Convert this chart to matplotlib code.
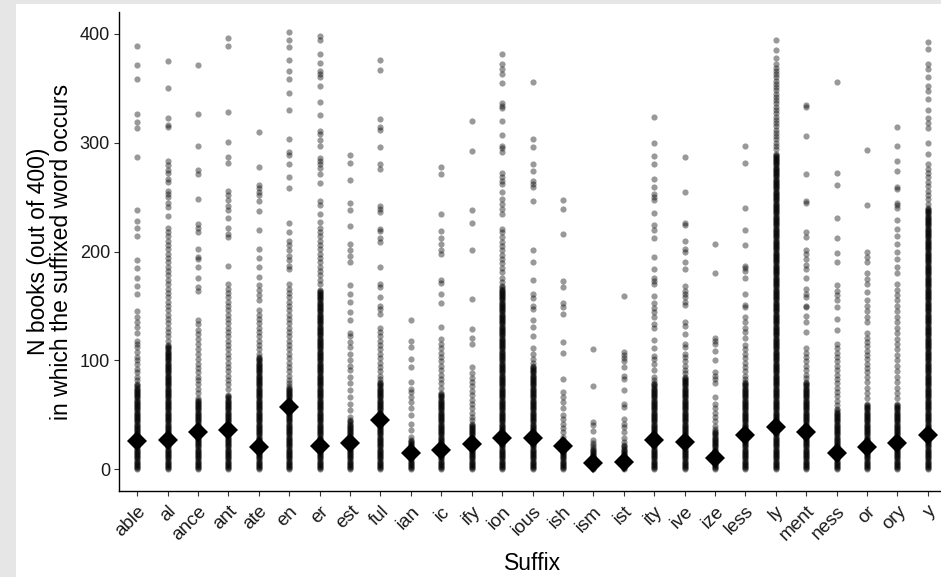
import numpy as np
import matplotlib
matplotlib.use("Agg")
import matplotlib.pyplot as plt
from matplotlib.patches import Rectangle

plt.rcParams['font.family'] = ['Liberation Sans', 'DejaVu Sans']

suffixes = ['able', 'al', 'ance', 'ant', 'ate', 'en', 'er', 'est', 'ful', 'ian',
            'ic', 'ify', 'ion', 'ious', 'ish', 'ism', 'ist', 'ity', 'ive', 'ize',
            'less', 'ly', 'ment', 'ness', 'or', 'ory', 'y']

# mean N books per suffix (diamonds)
means = [26, 27, 34, 36, 20, 57, 21, 24, 45, 15, 18, 23, 29, 29, 21, 6, 7, 27,
         25, 10, 31, 39, 34, 15, 20, 24, 31]

# every value from 0 up to this one occurs (solid black part of each column)
solid_tops = [78, 114, 65, 68, 103, 76, 165, 45, 80, 27, 70, 42, 168, 95, 27, 20,
              22, 79, 85, 35, 80, 290, 80, 55, 60, 60, 240]

# scattered values above the solid part
spread_pts = [
    [389, 371, 358, 326, 319, 313, 287, 238, 228, 222, 214, 192, 185, 176, 168, 161,
     145, 140, 135, 131, 125, 118, 115, 112, 108, 103, 100, 97, 92, 89, 85, 82],
    [375, 350, 323, 316, 314, 283, 279, 275, 272, 267, 264, 256, 253, 250, 245, 241,
     233, 222, 218, 214, 210, 206, 202, 198, 194, 190, 186, 182, 178, 174, 170, 166,
     162, 158, 154, 150, 146, 142, 138, 134, 130, 126, 122, 118],
    [371, 326, 297, 275, 271, 248, 225, 222, 218, 202, 195, 193, 186, 176, 167, 164,
     137, 133, 128, 124, 120, 115, 110, 106, 101, 97, 93, 89, 85, 82, 78, 74, 70],
    [396, 389, 328, 301, 287, 281, 256, 252, 247, 242, 238, 231, 222, 216, 213, 187,
     170, 166, 162, 158, 154, 150, 146, 142, 138, 134, 130, 126, 122, 118, 114, 110,
     106, 102, 98, 94, 90, 86, 82, 78, 74],
    [310, 278, 261, 258, 255, 252, 246, 237, 220, 202, 194, 186, 177, 169, 165, 160,
     155, 146, 142, 138, 134, 130, 126, 122, 118, 114, 110, 106],
    [402, 394, 388, 376, 366, 358, 346, 330, 303, 291, 289, 280, 268, 258, 226, 218,
     210, 206, 201, 196, 192, 187, 184, 170, 166, 162, 158, 154, 150, 146, 142, 138,
     134, 130, 126, 122, 118, 114, 110, 106, 102, 98, 94, 90, 86, 82, 79],
    [398, 394, 381, 373, 366, 363, 360, 352, 337, 325, 311, 308, 302, 297, 286, 283,
     280, 277, 271, 263, 246, 243, 234, 227, 222, 218, 214, 210, 206, 202, 198, 194,
     190, 186, 182, 178, 174, 170],
    [289, 281, 266, 245, 238, 223, 207, 201, 196, 190, 169, 161, 154, 144, 137, 125,
     122, 117, 112, 106, 100, 95, 91, 85, 79, 73, 66, 60, 54, 48],
    [376, 367, 322, 314, 312, 296, 280, 276, 242, 239, 236, 221, 219, 212, 209, 186,
     170, 167, 158, 150, 147, 143, 130, 126, 122, 118, 114, 110, 106, 102, 98, 94,
     90, 86, 83],
    [137, 118, 112, 101, 94, 80, 74, 71, 66, 62, 56, 50, 42, 36, 30],
    [278, 271, 234, 219, 212, 207, 201, 198, 174, 171, 161, 153, 131, 120, 115, 111,
     107, 103, 99, 95, 91, 87, 83, 79, 75],
    [320, 292, 238, 226, 201, 156, 129, 121, 115, 94, 88, 84, 80, 76, 72, 68, 64, 60,
     56, 52, 48, 45],
    [381, 372, 368, 363, 355, 336, 334, 332, 320, 307, 297, 295, 291, 272, 268, 265,
     262, 255, 248, 244, 239, 234, 221, 218, 213, 209, 205, 201, 197, 193, 189, 185,
     181, 176, 172],
    [356, 303, 296, 280, 274, 265, 262, 259, 246, 201, 190, 174, 161, 157, 150, 147,
     137, 131, 122, 111, 106, 101, 98],
    [247, 239, 216, 173, 167, 153, 149, 143, 117, 107, 83, 71, 66, 62, 56, 50, 46, 42,
     38, 34, 30],
    [110, 76, 43, 41, 35, 27, 24, 22],
    [159, 108, 105, 102, 99, 94, 86, 83, 73, 60, 57, 46, 42, 39, 34, 29, 25],
    [324, 300, 288, 280, 267, 259, 253, 250, 247, 235, 224, 220, 212, 195, 184, 176,
     173, 170, 159, 153, 148, 144, 140, 133, 130, 119, 111, 104, 101, 97, 91, 85, 82],
    [287, 255, 226, 224, 210, 202, 200, 190, 184, 168, 164, 161, 158, 154, 151, 135,
     132, 124, 115, 112, 106, 103, 99, 95, 91, 88],
    [207, 180, 121, 118, 115, 109, 100, 89, 86, 83, 79, 66, 60, 56, 52, 48, 44, 40, 37],
    [297, 281, 240, 220, 206, 187, 185, 182, 176, 161, 151, 149, 140, 135, 130, 126,
     121, 114, 110, 106, 102, 98, 94, 90, 86, 83],
    [394, 385, 378, 372, 369, 366, 363, 360, 357, 354, 351, 348, 345, 342, 339, 336,
     333, 330, 327, 324, 321, 318, 315, 312, 309, 306, 303, 300, 297, 294],
    [335, 333, 306, 271, 246, 245, 218, 213, 201, 198, 193, 188, 184, 176, 166, 161,
     158, 150, 149, 141, 135, 126, 111, 107, 103, 99, 95, 91, 87, 84],
    [356, 272, 261, 231, 212, 199, 190, 169, 164, 160, 155, 149, 138, 128, 115, 111,
     107, 103, 99, 95, 91, 87, 83, 79, 75, 71, 67, 63, 59],
    [293, 243, 200, 195, 190, 180, 175, 170, 163, 155, 150, 145, 140, 135, 125, 121,
     117, 113, 109, 105, 101, 97, 93, 89, 85, 80, 75, 70, 65],
    [314, 297, 283, 274, 259, 257, 245, 243, 240, 229, 221, 214, 207, 200, 193, 186,
     180, 170, 165, 160, 155, 150, 145, 140, 135, 130, 125, 120, 115, 110, 105, 100,
     95, 90, 85, 80, 75, 70, 65],
    [392, 386, 372, 368, 360, 352, 347, 340, 330, 323, 318, 313, 300, 290, 280, 276,
     272, 268, 264, 260, 256, 252, 248, 244],
]

W, H = 941, 577
fig = plt.figure(figsize=(W / 100, H / 100), dpi=100, facecolor='#e6e6e6')
fig.patches.append(Rectangle((16 / W, 0), 1, 1 - 4 / H, transform=fig.transFigure,
                             facecolor='white', edgecolor='none', zorder=-5))

ax = fig.add_axes([119 / W, 1 - 491 / H, 827 / W, 479 / H])
ax.set_facecolor('white')

for i, name in enumerate(suffixes):
    vals = np.concatenate([np.arange(0, solid_tops[i] + 1), spread_pts[i]])
    ax.scatter(np.full(len(vals), i), vals, s=20, color='black', alpha=0.4,
               linewidths=0, zorder=2)

ax.plot(range(len(suffixes)), means, 'D', ms=10.5, color='black', mew=0, zorder=3)

ax.set_xlim(-0.6, len(suffixes) - 0.4)
ax.set_ylim(-20, 420)
ax.set_yticks([0, 100, 200, 300, 400])
ax.set_xticks(range(len(suffixes)))
ax.set_xticklabels(suffixes)
plt.setp(ax.get_xticklabels(), rotation=45, ha='right', va='top',
         rotation_mode='anchor')

for side in ['top', 'right']:
    ax.spines[side].set_visible(False)
for side in ['left', 'bottom']:
    ax.spines[side].set_linewidth(1.0)
    ax.spines[side].set_color('black')
ax.tick_params(length=3.5, width=0.8, color='#333333', labelsize=13,
               labelcolor='#1a1a1a', pad=3)
ax.tick_params(axis='x', pad=5, labelsize=13.5)

ax.set_ylabel('N books (out of 400)\nin which the suffixed word occurs',
              fontsize=16.5, color='black', linespacing=1.0, labelpad=5)
ax.set_xlabel('Suffix', fontsize=16.5, color='black')
ax.xaxis.set_label_coords(0.5, -0.128)

fig.savefig('out.png', dpi=100, facecolor=fig.get_facecolor())
